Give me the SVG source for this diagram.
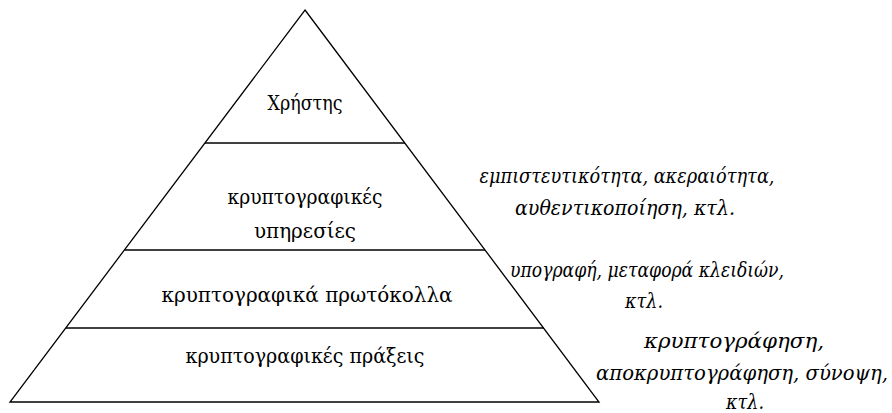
<svg xmlns="http://www.w3.org/2000/svg" width="892" height="413" viewBox="0 0 892 413">
<style>
.l{stroke:#000;stroke-width:1.3;fill:none}
.t{font-family:"DejaVu Serif","Liberation Serif",serif;font-size:20px;fill:#000;text-anchor:middle}
.i{font-style:italic}
</style>
<rect width="892" height="413" fill="#fff"/>
<g id="pyramid">
<polygon class="l" points="305,10 599,402 10,402"/>
</g>
<g id="connectors">
<line class="l" x1="205" y1="143" x2="405" y2="143"/>
<line class="l" x1="125" y1="250" x2="485" y2="250"/>
<line class="l" x1="66" y1="328" x2="544" y2="328"/>
</g>
<g id="user"><text class="t" x="305" y="110" textLength="75" lengthAdjust="spacingAndGlyphs">Χρήστης</text></g>
<g id="services">
<text class="t" x="305" y="204" textLength="155" lengthAdjust="spacingAndGlyphs">κρυπτογραφικές</text>
<text class="t" x="305" y="238" textLength="102" lengthAdjust="spacingAndGlyphs">υπηρεσίες</text>
</g>
<g id="protocols"><text class="t" x="307" y="302" textLength="291" lengthAdjust="spacingAndGlyphs">κρυπτογραφικά πρωτόκολλα</text></g>
<g id="operations"><text class="t" x="305" y="363" textLength="239" lengthAdjust="spacingAndGlyphs">κρυπτογραφικές πράξεις</text></g>
<g id="services-note">
<text class="t i" x="627" y="183" textLength="295" lengthAdjust="spacingAndGlyphs">εμπιστευτικότητα, ακεραιότητα,</text>
<text class="t i" x="625" y="215" textLength="220" lengthAdjust="spacingAndGlyphs">αυθεντικοποίηση, κτλ.</text>
</g>
<g id="protocols-note">
<text class="t i" x="647" y="277" textLength="274" lengthAdjust="spacingAndGlyphs">υπογραφή, μεταφορά κλειδιών,</text>
<text class="t i" x="644" y="308" textLength="38" lengthAdjust="spacingAndGlyphs">κτλ.</text>
</g>
<g id="operations-note">
<text class="t i" x="734" y="348" textLength="180" lengthAdjust="spacingAndGlyphs">κρυπτογράφηση,</text>
<text class="t i" x="742" y="380" textLength="292" lengthAdjust="spacingAndGlyphs">αποκρυπτογράφηση, σύνοψη,</text>
<text class="t i" x="745" y="409" textLength="38" lengthAdjust="spacingAndGlyphs">κτλ.</text>
</g>
</svg>
